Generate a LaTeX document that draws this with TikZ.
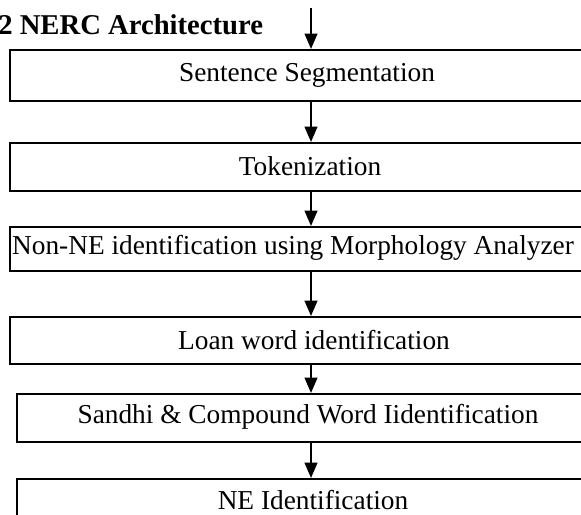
\documentclass[tikz,border=0pt]{standalone}
\usepackage{fontspec}
\setmainfont{Liberation Serif}
\usetikzlibrary{arrows.meta}

\begin{document}
\begin{tikzpicture}[x=0.75pt, y=-0.75pt,
    box/.style={draw, line width=1.4pt, minimum width=465pt, anchor=north west, inner sep=0pt},
    lbl/.style={font=\fontsize{20.5}{24}\selectfont, inner sep=0pt},
    arr/.style={-{Triangle[length=11.5pt, width=9.5pt]}, line width=1.5pt}]
    \useasboundingbox (0,0) rectangle (581,514);
    \clip (0,0) rectangle (581,514);
    % title
    \node[anchor=base west, inner sep=0pt, font=\fontsize{21.5}{25}\selectfont\bfseries] (title) at (-2,34) {2 NERC Architecture};
    \coordinate (in) at (311,8);
    % stages
    \node[box, minimum height=38.25pt] (seg) at (9,49) {};
    \node[box, minimum height=36pt] (tok) at (9,142) {};
    \node[box, minimum height=33pt] (nonne) at (9,226) {};
    \node[box, minimum height=35.25pt] (loan) at (9,316) {};
    \node[box, minimum height=36pt] (sandhi) at (16,393) {};
    \node[box, minimum height=60pt] (neid) at (16,478) {};
    % labels
    \node[lbl] (tseg) at (307,75) {Sentence Segmentation};
    \node[lbl] (ttok) at (310,166) {Tokenization};
    \node[lbl] (tnonne) at (293,248) {Non-NE identification using Morphology Analyzer};
    \node[lbl] (tloan) at (314,340) {Loan word identification};
    \node[lbl] (tsandhi) at (308,417) {Sandhi \& Compound Word Iidentification};
    \node[lbl] (tneid) at (313,500) {NE Identification};
    % arrows
    \draw[arr] (in) -- (in |- seg.north);
    \foreach \a/\b in {seg/tok, tok/nonne, nonne/loan, loan/sandhi, sandhi/neid}
        \draw[arr] (\a.south -| in) -- (\b.north -| in);
\end{tikzpicture}
\end{document}
